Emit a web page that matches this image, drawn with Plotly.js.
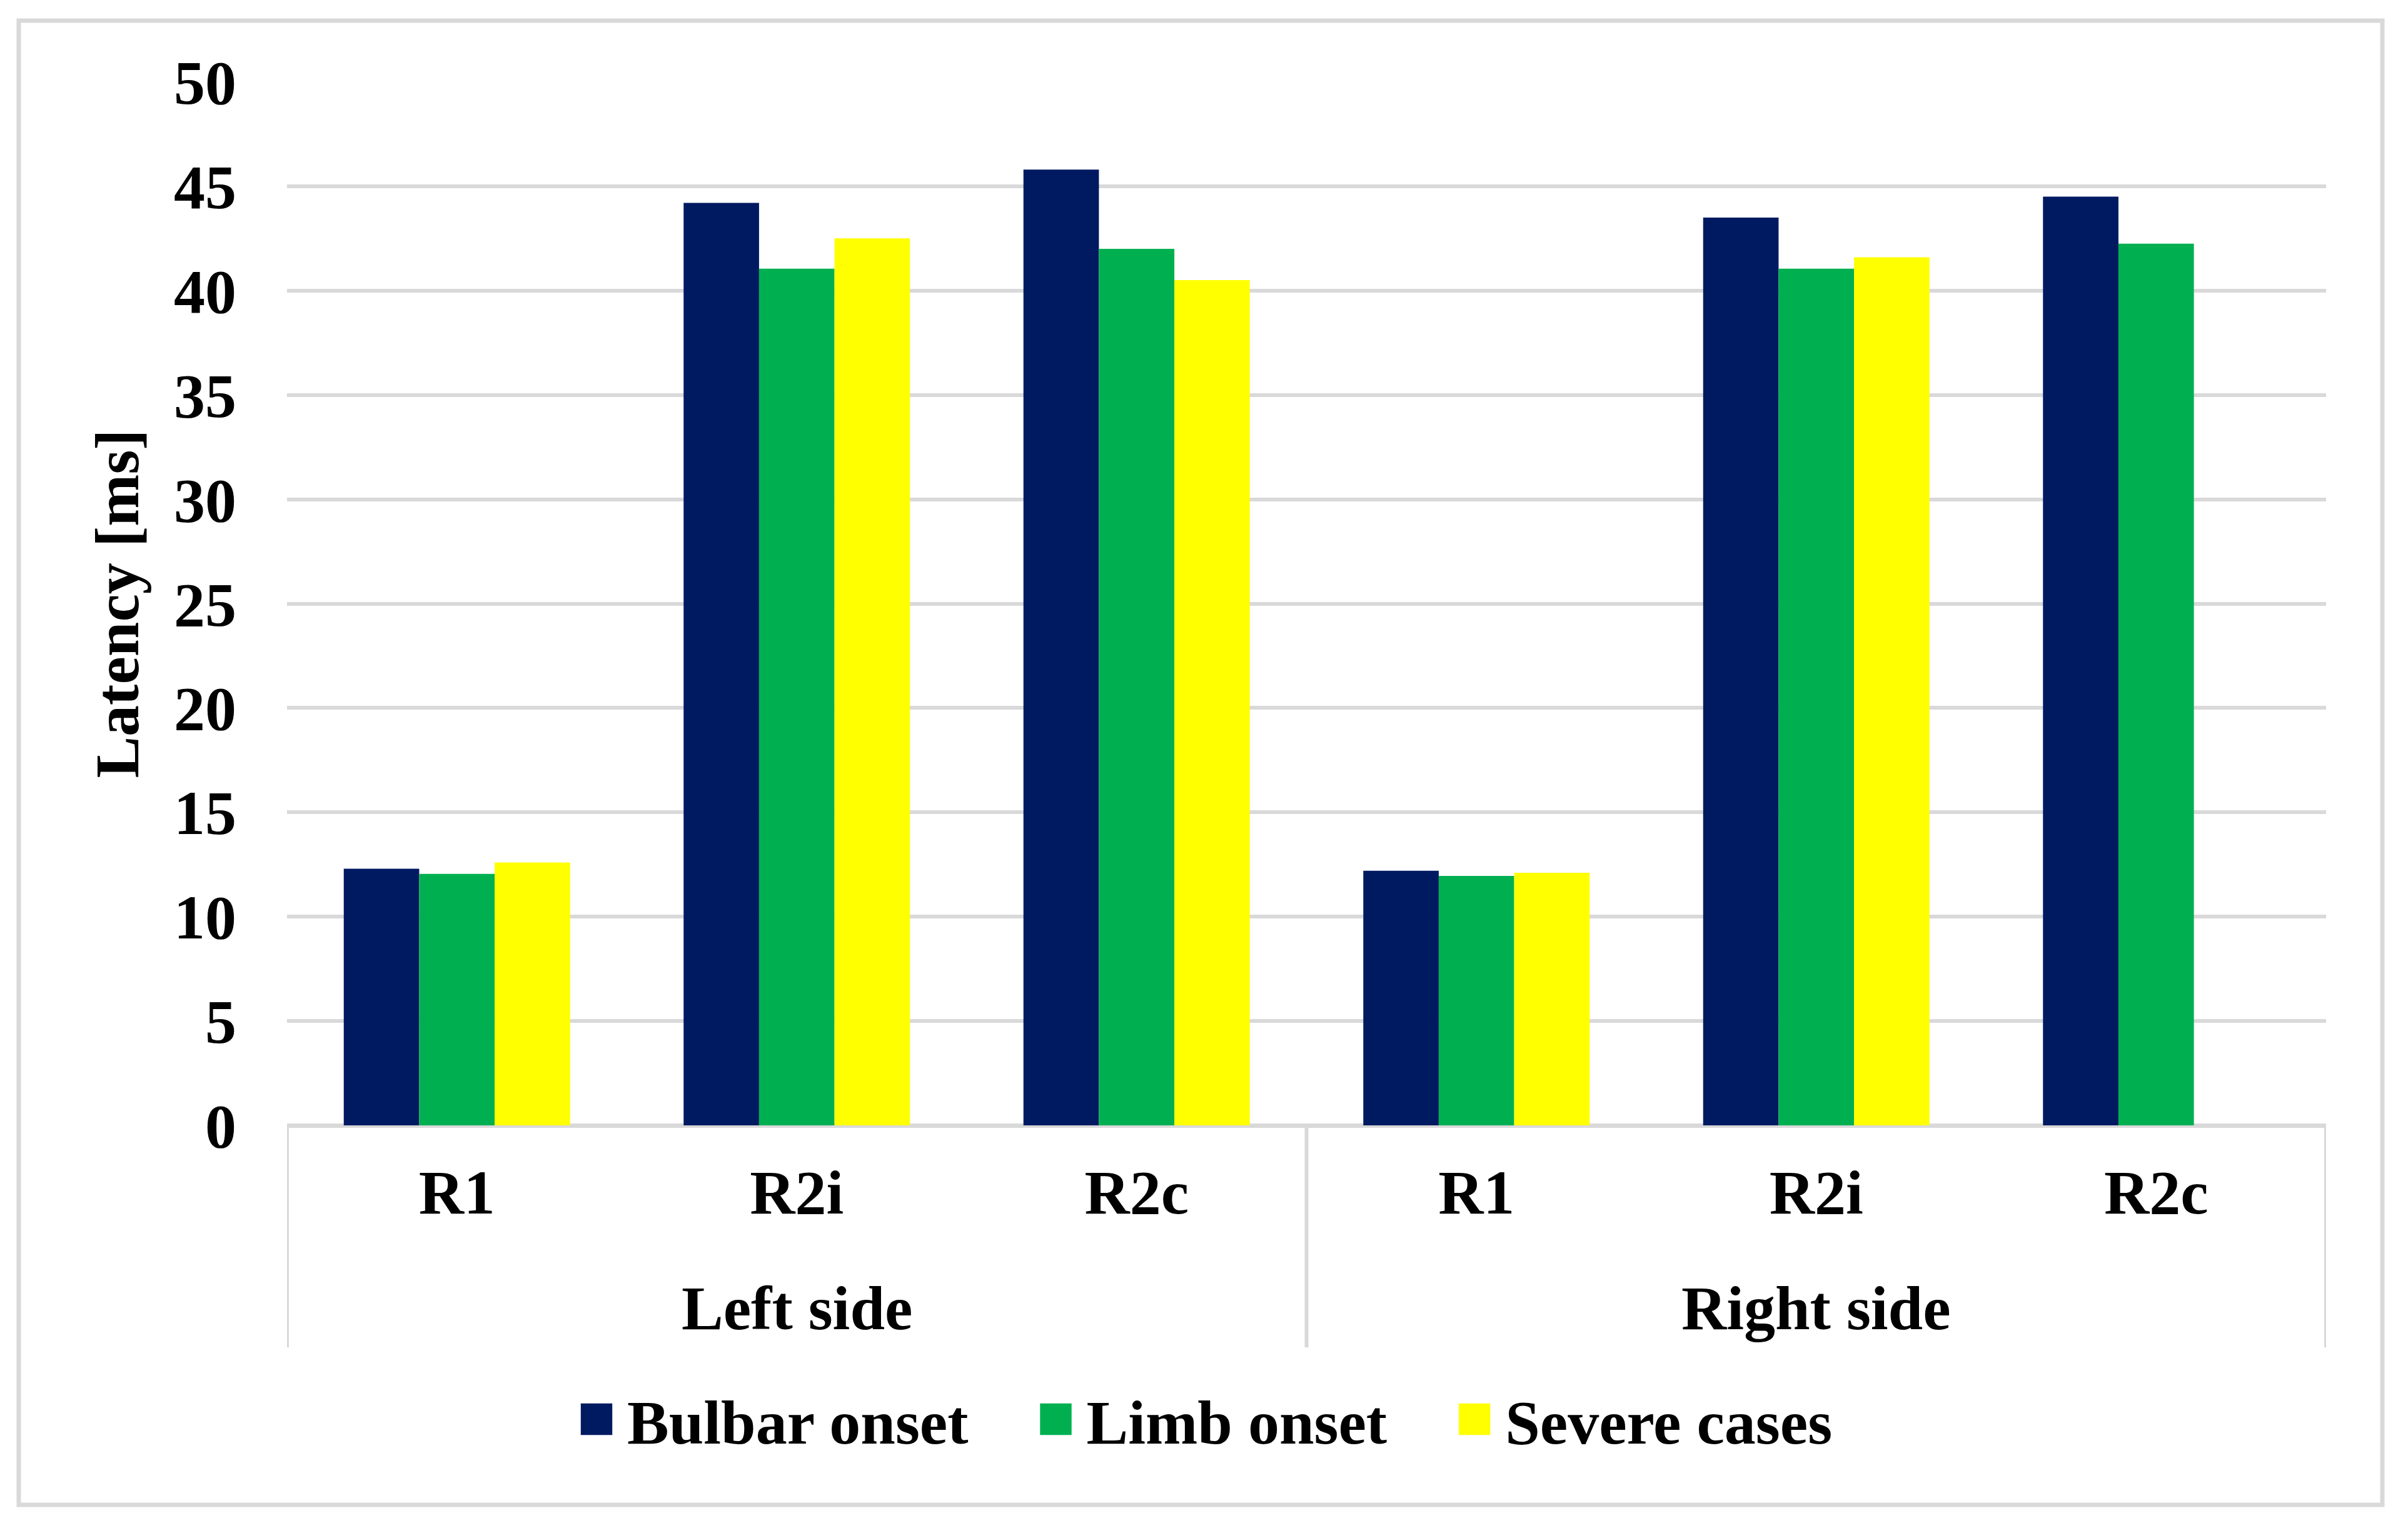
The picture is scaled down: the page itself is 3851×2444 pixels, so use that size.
<!DOCTYPE html>
<html>
<head>
<meta charset="utf-8">
<script src="https://cdn.plot.ly/plotly-3.0.1.min.js"></script>
<style>
  html, body { margin: 0; padding: 0; background: #ffffff; }
  #chart { width: 3851px; height: 2444px; }
</style>
</head>
<body>
<div id="chart"></div>
<script>
// ---- data ----
const sides = ['Left side', 'Left side', 'Left side', 'Right side', 'Right side', 'Right side'];
const responses = ['R1', 'R2i', 'R2c', 'R1', 'R2i', 'R2c'];
const bulbarOnset = [12.3, 44.2, 45.8, 12.2, 43.5, 44.5];
const limbOnset = [12.05, 41.05, 42.0, 11.95, 41.05, 42.25];
const severeCases = [12.6, 42.5, 40.5, 12.1, 41.6, null];
const seriesNames = ['Bulbar onset', 'Limb onset', 'Severe cases'];
const seriesColors = ['#001A62', '#00B050', '#FFFF00'];
const yTicks = [0, 5, 10, 15, 20, 25, 30, 35, 40, 45, 50];

// ---- layout constants ----
const W = 3851, H = 2444;
const M = { l: 459, r: 131, t: 131, b: 644 };
const plotW = W - M.l - M.r, plotH = H - M.t - M.b;
const FONT = 'Liberation Serif, Times New Roman, serif';
const GRID = '#D9D9D9';
const BOLD = { family: FONT, size: 100, color: '#000000', weight: 'bold' };

// category positions on the x axis (one slot per response)
const pos = responses.map((_, i) => i);

const values = [bulbarOnset, limbOnset, severeCases];
const traces = values.map((v, i) => ({
  type: 'bar',
  name: seriesNames[i],
  x: pos,
  y: v,
  marker: { color: seriesColors[i], line: { width: 0 } },
  hoverinfo: 'skip'
}));

// pixel -> paper helpers (frame decorations only)
const px2x = p => (p - M.l) / plotW;
const py2y = p => (H - M.b - p) / plotH;

// group labels and dividers derived from the sides array
const groupNames = [...new Set(sides)];
const annotations = groupNames.map(g => {
  const idx = pos.filter(i => sides[i] === g);
  const mid = (idx[0] + idx[idx.length - 1]) / 2;
  return {
    x: mid, xref: 'x', y: py2y(2092), yref: 'paper',
    text: g, showarrow: false, xanchor: 'center', yanchor: 'middle',
    font: BOLD
  };
});
const bounds = [];
groupNames.forEach(g => {
  const idx = pos.filter(i => sides[i] === g);
  bounds.push(idx[0] - 0.5, idx[idx.length - 1] + 0.5);
});
const dividerX = [...new Set(bounds)];
const shapes = dividerX.map(b => ({
  type: 'line', xref: 'x', yref: 'paper',
  x0: b, x1: b, y0: 0, y1: py2y(2155),
  line: { color: GRID, width: 6 }
}));
// outer chart border
shapes.push({
  type: 'rect', xref: 'paper', yref: 'paper',
  x0: px2x(30), x1: px2x(3810), y0: py2y(2407), y1: py2y(33),
  line: { color: GRID, width: 7 }, fillcolor: 'rgba(0,0,0,0)', layer: 'below'
});

const layout = {
  width: W, height: H,
  margin: M,
  paper_bgcolor: '#FFFFFF',
  plot_bgcolor: '#FFFFFF',
  font: BOLD,
  barmode: 'group',
  bargap: 0.334,
  bargroupgap: 0,
  showlegend: true,
  legend: {
    orientation: 'h',
    xref: 'container', yref: 'container',
    x: 819 / W, xanchor: 'left',
    y: 1 - 2270 / H, yanchor: 'middle',
    font: BOLD,
    itemwidth: 174,
    traceorder: 'normal',
    bgcolor: 'rgba(0,0,0,0)'
  },
  xaxis: {
    range: [-0.5, pos.length - 0.5],
    tickvals: pos,
    ticktext: responses,
    showgrid: false,
    showline: false,
    zeroline: false,
    ticks: '',
    ticklabelstandoff: 40,
    tickfont: BOLD,
    fixedrange: true
  },
  yaxis: {
    range: [0, 50],
    tickvals: yTicks,
    ticktext: yTicks.map(String),
    showgrid: true,
    gridcolor: GRID,
    gridwidth: 6,
    zeroline: true,
    zerolinecolor: GRID,
    zerolinewidth: 7,
    showline: false,
    ticks: '',
    ticklabelstandoff: 80,
    tickfont: BOLD,
    title: { text: 'Latency [ms]', font: BOLD, standoff: 23 },
    fixedrange: true
  },
  annotations: annotations,
  shapes: shapes
};

Plotly.newPlot('chart', traces, layout, { displayModeBar: false, staticPlot: true }).then(() => {
  // enlarge the legend swatches to the reference's square keys
  document.querySelectorAll('.legend .legendpoints path').forEach(p => {
    p.setAttribute('transform', 'translate(135,0) scale(4.2)');
  });
});
</script>
</body>
</html>
